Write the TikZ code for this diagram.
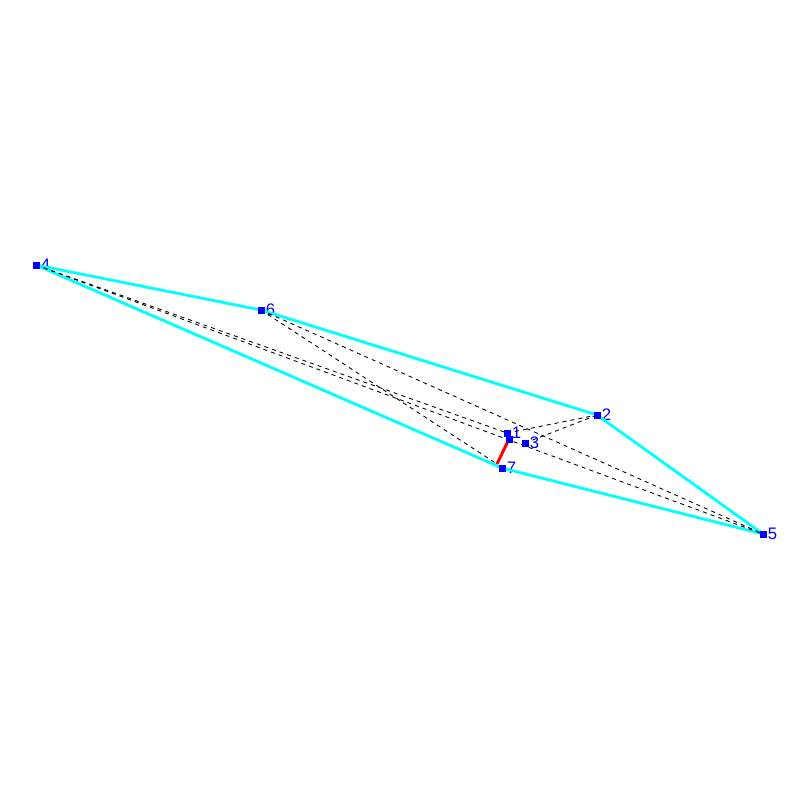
\documentclass[tikz,border=0pt]{standalone}
\usepackage{fontspec}
\setsansfont{Liberation Sans}
\usetikzlibrary{positioning}
\definecolor{hullcyan}{RGB}{0,255,255}

\begin{document}
\begin{tikzpicture}[x=0.02cm, y=-0.02cm,
    vert/.style={fill=blue, inner sep=0pt, minimum size=0.13cm},
    lbl/.style={text=blue, font=\sffamily\fontsize{9.5}{10}\selectfont, inner sep=0.5pt},
    hull/.style={hullcyan, line width=1.6pt, line join=round},
    diag/.style={black, line width=0.5pt, dash pattern=on 2.3pt off 2.3pt}]
    \useasboundingbox (0,0) rectangle (800,800);
    % points
    \node [vert, label={[lbl]right:4}] (p4) at (36,265)  {};
    \node [vert, label={[lbl]right:6}] (p6) at (261,310) {};
    \node [vert, label={[lbl]right:2}] (p2) at (597,415) {};
    \node [vert, label={[lbl]right:5}] (p5) at (763,534) {};
    \node [vert, label={[lbl]right:7}] (p7) at (502,468) {};
    \node [vert, label={[lbl]right:3}] (p3) at (525,443) {};
    \node [vert] (p8) at (509,439) {};
    \node [vert, label={[lbl]right:1}] (p1) at (507,433) {};
    \coordinate (r7) at (497,464);
    % hull and diagonals
    \draw [hull] (p4.center) -- (p6.center) -- (p2.center) -- (p5.center) -- (p7.center) -- cycle;
    \draw [diag] (p4.center) -- (p1.center);
    \draw [diag] (p4.center) -- (p5.center);
    \draw [diag] (p6.center) -- (p5.center);
    \draw [diag] (p6.center) -- (r7);
    \draw [diag] (p1.center) -- (p2.center);
    \draw [diag] (p3.center) -- (p2.center);
    \draw [red, line width=1.7pt] (p8.center) -- (r7);
    % squares on top again
    \foreach \p in {p4,p6,p2,p5,p7,p3,p8,p1}
        \fill [blue] (\p.center) ++(-3.5,-3.5) rectangle ++(7,7);
\end{tikzpicture}
\end{document}
